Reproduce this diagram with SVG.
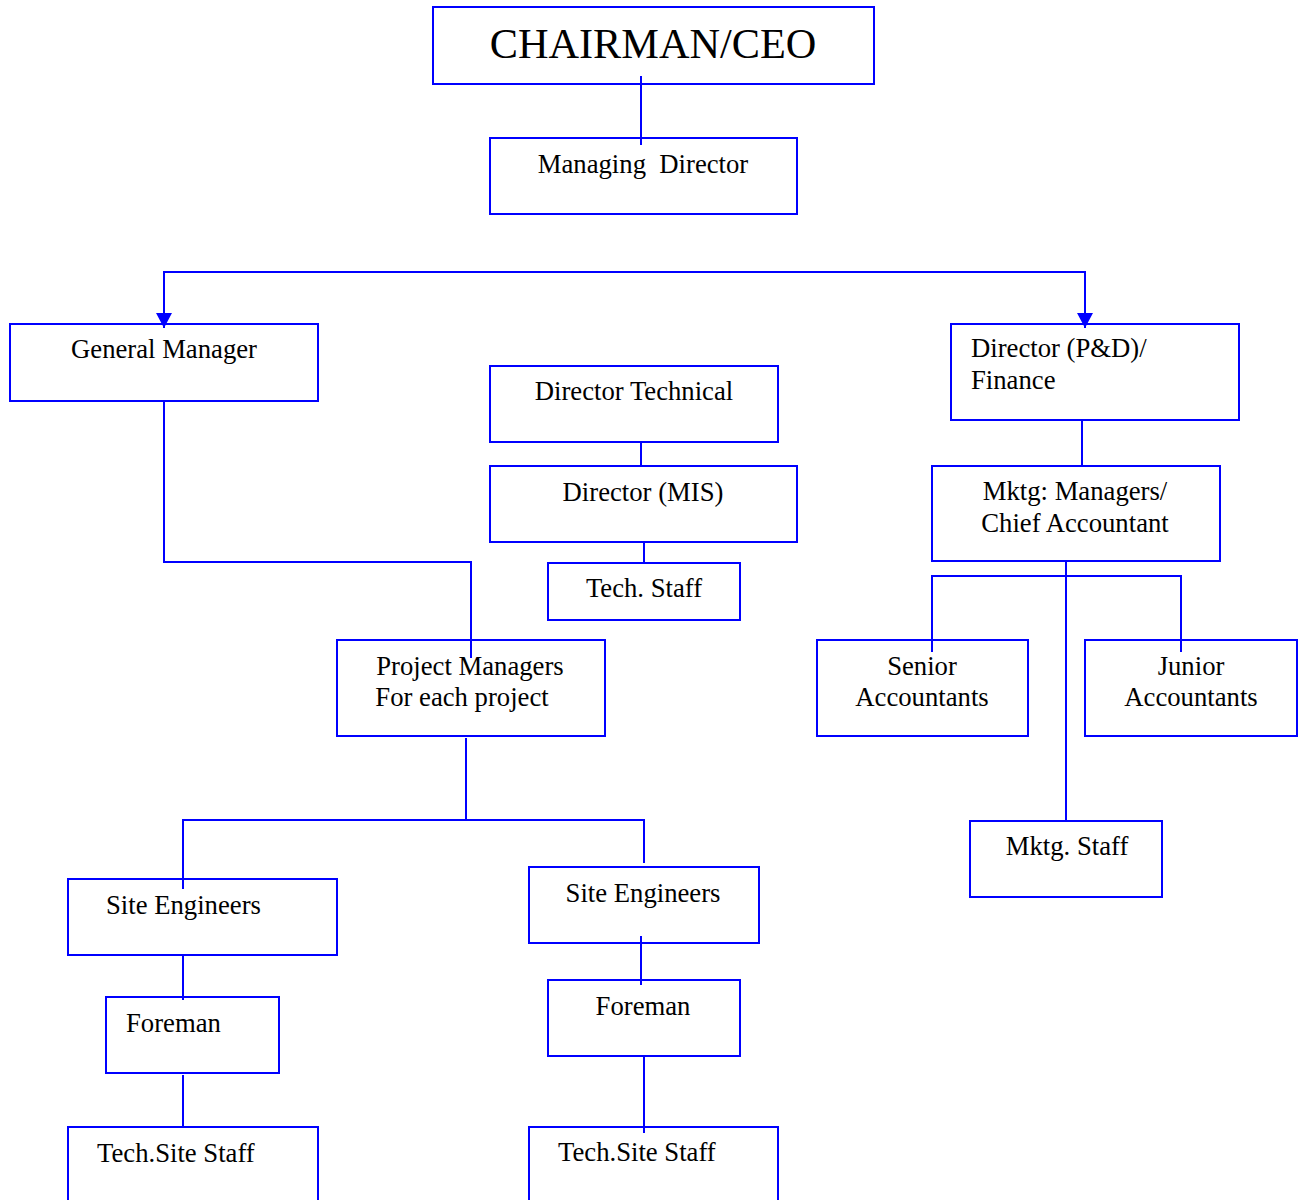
<svg xmlns="http://www.w3.org/2000/svg" width="1305" height="1200" viewBox="0 0 1305 1200">
<defs>
<style>
.box{fill:#fff;stroke:#0000ff;stroke-width:2}
.ln{fill:none;stroke:#0000ff;stroke-width:2}
text{font-family:"Liberation Serif","Times New Roman",serif;font-size:26.7px;fill:#000}
.c{text-anchor:middle}
</style>
<marker id="arr" viewBox="0 0 16 15" refX="8" refY="15" markerWidth="16" markerHeight="15" markerUnits="userSpaceOnUse" orient="0">
<path d="M0,0 L16,0 L8,15 Z" fill="#0000ff"/>
</marker>
</defs>
<rect width="1305" height="1200" fill="#fff"/>

<g id="nodes">
<g id="ceo"><rect class="box" x="433" y="7" width="441" height="77"/><text class="c" x="653" y="58" style="font-size:42.3px">CHAIRMAN/CEO</text></g>
<g id="md"><rect class="box" x="490" y="138" width="307" height="76"/><text class="c" x="643" y="173" xml:space="preserve">Managing  Director</text></g>
<g id="gm"><rect class="box" x="10" y="324" width="308" height="77"/><text class="c" x="164" y="358">General Manager</text></g>
<g id="dpd"><rect class="box" x="951" y="324" width="288" height="96"/><text x="971" y="357">Director (P&amp;D)/</text><text x="971" y="389">Finance</text></g>
<g id="dt"><rect class="box" x="490" y="366" width="288" height="76"/><text class="c" x="634" y="400">Director Technical</text></g>
<g id="dmis"><rect class="box" x="490" y="466" width="307" height="76"/><text class="c" x="643" y="501">Director (MIS)</text></g>
<g id="ts"><rect class="box" x="548" y="563" width="192" height="57"/><text class="c" x="644" y="597">Tech. Staff</text></g>
<g id="mktg"><rect class="box" x="932" y="466" width="288" height="95"/><text class="c" x="1075" y="500">Mktg: Managers/</text><text class="c" x="1075" y="532">Chief Accountant</text></g>
<g id="pm"><rect class="box" x="337" y="640" width="268" height="96"/><text class="c" x="470" y="675">Project Managers</text><text class="c" x="462" y="706">For each project</text></g>
<g id="sa"><rect class="box" x="817" y="640" width="211" height="96"/><text class="c" x="922" y="675">Senior</text><text class="c" x="922" y="706">Accountants</text></g>
<g id="ja"><rect class="box" x="1085" y="640" width="212" height="96"/><text class="c" x="1191" y="675">Junior</text><text class="c" x="1191" y="706">Accountants</text></g>
<g id="ms"><rect class="box" x="970" y="821" width="192" height="76"/><text class="c" x="1067" y="855">Mktg. Staff</text></g>
<g id="se1"><rect class="box" x="68" y="879" width="269" height="76"/><text x="106" y="914">Site Engineers</text></g>
<g id="se2"><rect class="box" x="529" y="867" width="230" height="76"/><text class="c" x="643" y="902">Site Engineers</text></g>
<g id="fm1"><rect class="box" x="106" y="997" width="173" height="76"/><text x="126" y="1032">Foreman</text></g>
<g id="fm2"><rect class="box" x="548" y="980" width="192" height="76"/><text class="c" x="643" y="1015">Foreman</text></g>
<g id="tss1"><rect class="box" x="68" y="1127" width="250" height="80"/><text x="97" y="1162">Tech.Site Staff</text></g>
<g id="tss2"><rect class="box" x="529" y="1127" width="249" height="80"/><text x="558" y="1161">Tech.Site Staff</text></g>
</g>

<g id="connectors">
<line class="ln" x1="641" y1="76" x2="641" y2="145"/>
<path class="ln" d="M164,328 V272 H1085 V328" marker-start="url(#arr)" marker-end="url(#arr)"/>
<path class="ln" d="M164,401 V562 H471 V658"/>
<line class="ln" x1="641" y1="442" x2="641" y2="466"/>
<line class="ln" x1="644" y1="542" x2="644" y2="563"/>
<line class="ln" x1="466" y1="738" x2="466" y2="820"/>
<path class="ln" d="M183,889 V820 H644 V863"/>
<line class="ln" x1="183" y1="955" x2="183" y2="1000"/>
<line class="ln" x1="183" y1="1075" x2="183" y2="1128"/>
<line class="ln" x1="641" y1="936" x2="641" y2="985"/>
<line class="ln" x1="644" y1="1056" x2="644" y2="1133"/>
<line class="ln" x1="1082" y1="420" x2="1082" y2="466"/>
<line class="ln" x1="1066" y1="561" x2="1066" y2="821"/>
<path class="ln" d="M932,652 V576 H1181 V652"/>
</g>
</svg>
